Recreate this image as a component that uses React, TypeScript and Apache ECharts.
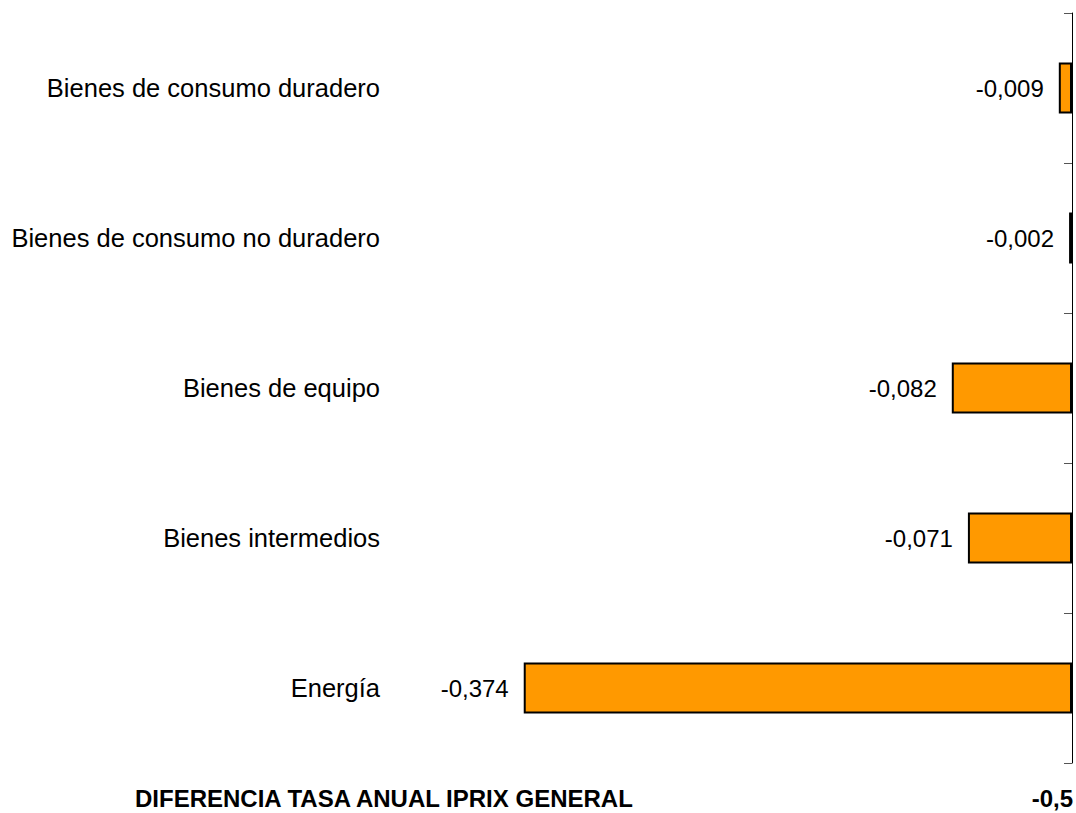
import React, { useEffect, useRef } from "react";
import * as echarts from "echarts";

const categories = [
  "Bienes de consumo duradero",
  "Bienes de consumo no duradero",
  "Bienes de equipo",
  "Bienes intermedios",
  "Energía",
];
const values = [-0.009, -0.002, -0.082, -0.071, -0.374];
const totalLabel = "DIFERENCIA TASA ANUAL IPRIX GENERAL";
const totalValue = -0.5;

const FONT = "'Liberation Sans', Arial, sans-serif";
const fmt = (v: number, d: number) => v.toFixed(d).replace(".", ",");

export default function App() {
  const ref = useRef<HTMLDivElement>(null);
  useEffect(() => {
    if (!ref.current) return;
    const chart = echarts.init(ref.current, null, { renderer: "svg" });
    chart.setOption({
      animation: false,
      backgroundColor: "#ffffff",
      grid: { left: 383, right: 4, top: 13, bottom: 50, containLabel: false },
      xAxis: {
        type: "value",
        min: -0.47,
        max: 0,
        show: false,
      },
      yAxis: [
        {
          type: "category",
          data: categories,
          inverse: true,
          position: "right",
          axisLine: { show: true, onZero: false, lineStyle: { color: "#000", width: 1 } },
          axisTick: { show: true, inside: true, length: 8, lineStyle: { color: "#555", width: 1 } },
          axisLabel: { show: false },
          splitLine: { show: false },
        },
        {
          type: "category",
          data: categories,
          inverse: true,
          position: "left",
          axisLine: { show: false },
          axisTick: { show: false },
          axisLabel: {
            show: true,
            margin: 3,
            color: "#000",
            fontSize: 25.5,
            fontFamily: FONT,
          },
          splitLine: { show: false },
        },
      ],
      series: [
        {
          type: "bar",
          yAxisIndex: 0,
          data: values,
          barWidth: 51,
          itemStyle: { color: "#FF9900", borderColor: "#000", borderWidth: 2 },
          label: {
            show: true,
            position: "left",
            distance: 15,
            color: "#000",
            fontSize: 24,
            fontFamily: FONT,
            formatter: (p: any) => fmt(p.value, 3),
          },
        },
      ],
      graphic: [
        {
          type: "text",
          left: 135,
          top: 786,
          style: {
            text: totalLabel,
            fontSize: 24,
            fontWeight: "bold",
            fontFamily: FONT,
            fill: "#000",
          },
        },
        {
          type: "text",
          right: 3,
          top: 786,
          style: {
            text: fmt(totalValue, 1),
            fontSize: 24,
            fontWeight: "bold",
            fontFamily: FONT,
            fill: "#000",
          },
        },
      ],
    });
    return () => chart.dispose();
  }, []);
  return (
    <div
      ref={ref}
      style={{ position: "fixed", left: 0, top: 0, width: 1076, height: 813 }}
    />
  );
}
